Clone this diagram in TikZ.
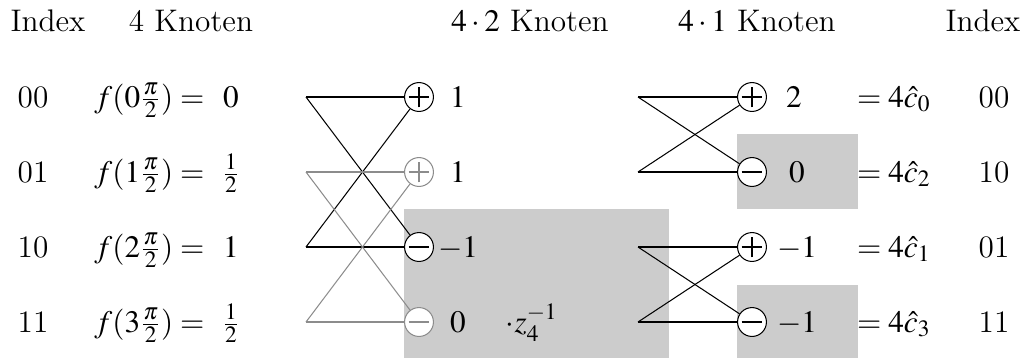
\documentclass[12pt,tikz,border=0pt]{standalone}
\usepackage{mathptmx}

\begin{document}
\begin{tikzpicture}[x=0.0135cm,y=-0.0135cm,
knot/.style={circle,draw=#1,fill=white,minimum size=0.39cm,inner sep=0pt},
knot/.default=black,
addknot/.style={knot=#1,path picture={\draw[#1] ([xshift=-1.4mm]path picture bounding box.center)--([xshift=1.4mm]path picture bounding box.center) ([yshift=-1.4mm]path picture bounding box.center)--([yshift=1.4mm]path picture bounding box.center);}},
addknot/.default=black,
subknot/.style={knot=#1,path picture={\draw[#1] ([xshift=-1.4mm]path picture bounding box.center)--([xshift=1.4mm]path picture bounding box.center);}},
subknot/.default=black,
lbl/.style={anchor=base,inner sep=0pt},
grau/.style={draw=black!45},
box/.style={fill=black!20}]
\useasboundingbox (0,0) rectangle (1024,358);

% grey fields
\fill[box] (404,209) rectangle (669,358);
\fill[box] (737,134) rectangle (858,209);
\fill[box] (737,285) rectangle (858,358);

% headers
\node[lbl] (hi) at (48,31) {Index};
\node[lbl] (hk4) at (191,31) {4 Knoten};
\node[lbl] (hk42) at (530,31) {$4\cdot2$ Knoten};
\node[lbl] (hk41) at (757,31) {$4\cdot1$ Knoten};
\node[lbl] (ho) at (983,31) {Index};

% input
\node[lbl] (i0) at (33,107) {00};
\node[lbl] (i1) at (33,182) {01};
\node[lbl] (i2) at (33,257) {10};
\node[lbl] (i3) at (33,332) {11};
\node[lbl,anchor=base east] (f0) at (205,107) {$f(0\frac{\pi}{2}) =$};
\node[lbl,anchor=base east] (f1) at (205,182) {$f(1\frac{\pi}{2}) =$};
\node[lbl,anchor=base east] (f2) at (205,257) {$f(2\frac{\pi}{2}) =$};
\node[lbl,anchor=base east] (f3) at (205,332) {$f(3\frac{\pi}{2}) =$};
\node[lbl] (v0) at (231,107) {$0$};
\node[lbl] (v1) at (231,182) {$\frac{1}{2}$};
\node[lbl] (v2) at (231,257) {$1$};
\node[lbl] (v3) at (231,332) {$\frac{1}{2}$};

% first stage
\coordinate (a0) at (306,97);
\coordinate (a1) at (306,172);
\coordinate (a2) at (306,247);
\coordinate (a3) at (306,322);
\node[addknot] (p0) at (419,97) {};
\node[addknot=black!45] (p1) at (419,172) {};
\node[subknot] (p2) at (419,247) {};
\node[subknot=black!45] (p3) at (419,322) {};
\draw (a0)--(p0);
\draw (a0)--(p2);
\draw (a2)--(p2);
\draw (a2)--(p0);
\draw[grau] (a1)--(p1);
\draw[grau] (a1)--(p3);
\draw[grau] (a3)--(p3);
\draw[grau] (a3)--(p1);
\node[lbl] (w0) at (458,107) {$1$};
\node[lbl] (w1) at (458,182) {$1$};
\node[lbl] (w2) at (458,257) {$-1$};
\node[lbl] (w3) at (458,332) {$0$};
\node[lbl] (tw) at (532,332) {$\cdot z_4^{-1}$};

% second stage
\coordinate (b0) at (638,97);
\coordinate (b1) at (638,172);
\coordinate (b2) at (638,247);
\coordinate (b3) at (638,322);
\node[addknot] (q0) at (752,97) {};
\node[subknot] (q1) at (752,172) {};
\node[addknot] (q2) at (752,247) {};
\node[subknot] (q3) at (752,322) {};
\draw (b0)--(q0);
\draw (b0)--(q1);
\draw (b1)--(q1);
\draw (b1)--(q0);
\draw (b2)--(q2);
\draw (b2)--(q3);
\draw (b3)--(q3);
\draw (b3)--(q2);
\node[lbl] (u0) at (794,107) {$2$};
\node[lbl] (u1) at (797,182) {$0$};
\node[lbl] (u2) at (797,257) {$-1$};
\node[lbl] (u3) at (797,332) {$-1$};

% output
\node[lbl] (c0) at (894,107) {$=4\hat{c}_0$};
\node[lbl] (c1) at (894,182) {$=4\hat{c}_2$};
\node[lbl] (c2) at (894,257) {$=4\hat{c}_1$};
\node[lbl] (c3) at (894,332) {$=4\hat{c}_3$};
\node[lbl] (o0) at (994,107) {00};
\node[lbl] (o1) at (994,182) {10};
\node[lbl] (o2) at (994,257) {01};
\node[lbl] (o3) at (994,332) {11};
\end{tikzpicture}
\end{document}
